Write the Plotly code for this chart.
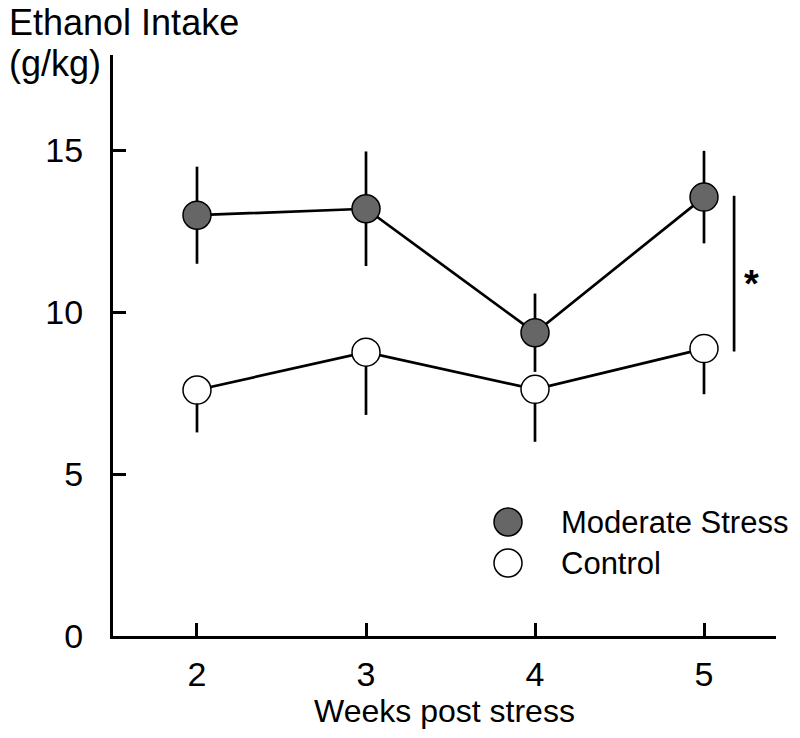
import plotly.graph_objects as go

weeks = [2, 3, 4, 5]
stress_mean = [13.0, 13.2, 9.37, 13.56]
stress_err = [1.5, 1.77, 1.21, 1.43]
control_mean = [7.6, 8.77, 7.62, 8.88]
control_err_down = [1.31, 1.94, 1.62, 1.41]
series_names = ["Moderate Stress", "Control"]

FONT = "Liberation Sans, Arial, sans-serif"
W, H = 800, 738
L, T = 113, 55
R = W - 776
B = H - 636
pw, ph = W - L - R, H - T - B


def px_x(px):
    return (px - L) / pw


def px_y(py):
    return (H - B - py) / ph


fig = go.Figure()
fig.add_trace(go.Scatter(
    x=weeks, y=stress_mean, mode="lines+markers", name=series_names[0],
    line=dict(color="black", width=2.7),
    marker=dict(size=28, color="#666666", line=dict(color="black", width=1.5)),
    error_y=dict(type="data", array=stress_err, color="black", thickness=2.7, width=0),
    showlegend=False))
fig.add_trace(go.Scatter(
    x=weeks, y=control_mean, mode="lines+markers", name=series_names[1],
    line=dict(color="black", width=2.7),
    marker=dict(size=28, color="white", line=dict(color="black", width=1.5)),
    error_y=dict(type="data", symmetric=False, array=[0, 0, 0, 0],
                 arrayminus=control_err_down, color="black", thickness=2.7, width=0),
    showlegend=False))

# significance bracket
bx = weeks[-1] + 0.178
fig.add_shape(type="line", xref="x", yref="y", x0=bx, x1=bx,
              y0=control_mean[-1] - 0.09, y1=stress_mean[-1] + 0.04,
              line=dict(color="black", width=2.7))
fig.add_annotation(x=weeks[-1] + 0.276, y=(control_mean[-1] + stress_mean[-1]) / 2,
                   xref="x", yref="y", text="<b>*</b>", showarrow=False,
                   font=dict(family=FONT, size=38, color="black"), xshift=1, yshift=-11)

# legend drawn manually
leg = [(series_names[0], "#666666", 522), (series_names[1], "white", 563)]
for name, col, ypx in leg:
    fig.add_shape(type="circle", xref="paper", yref="paper",
                  xsizemode="pixel", ysizemode="pixel", xanchor=px_x(508), yanchor=px_y(ypx),
                  x0=-14, x1=14, y0=-14, y1=14,
                  fillcolor=col, line=dict(color="black", width=1.5))
    fig.add_annotation(xref="paper", yref="paper", x=px_x(559), y=px_y(ypx),
                       xanchor="left", yanchor="middle", text=name, showarrow=False,
                       font=dict(family=FONT, size=31, color="black"))

# y-axis title (two lines placed separately)
fig.add_annotation(xref="paper", yref="paper", x=px_x(7), y=px_y(23),
                   xanchor="left", yanchor="middle", text="Ethanol Intake", showarrow=False,
                   font=dict(family=FONT, size=36, color="black"))
fig.add_annotation(xref="paper", yref="paper", x=px_x(7), y=px_y(64),
                   xanchor="left", yanchor="middle", text="(g/kg)", showarrow=False,
                   font=dict(family=FONT, size=36, color="black"))

fig.update_layout(
    width=W, height=H, margin=dict(l=L, r=R, t=T, b=B, autoexpand=False),
    paper_bgcolor="white", plot_bgcolor="white",
    font=dict(family=FONT, color="black"),
    xaxis=dict(range=[1.503, 5.426], tickvals=weeks, ticks="inside", ticklen=13,
               tickwidth=2.5, tickcolor="black", showline=True, linewidth=3,
               linecolor="black", showgrid=False, zeroline=False, automargin=False,
               tickfont=dict(size=34), ticklabelstandoff=6,
               title=dict(text="Weeks post stress", font=dict(size=32), standoff=6)),
    yaxis=dict(range=[0, 17.95], tickvals=[0, 5, 10, 15], ticks="inside", ticklen=13,
               tickwidth=2.5, tickcolor="black", showline=True, linewidth=3,
               linecolor="black", showgrid=False, zeroline=False, automargin=False,
               tickfont=dict(size=34), ticklabelstandoff=20),
)

fig.write_html("out.html", config={"displayModeBar": False},
               post_script="document.body.style.margin='0';document.body.style.overflow='hidden';")
